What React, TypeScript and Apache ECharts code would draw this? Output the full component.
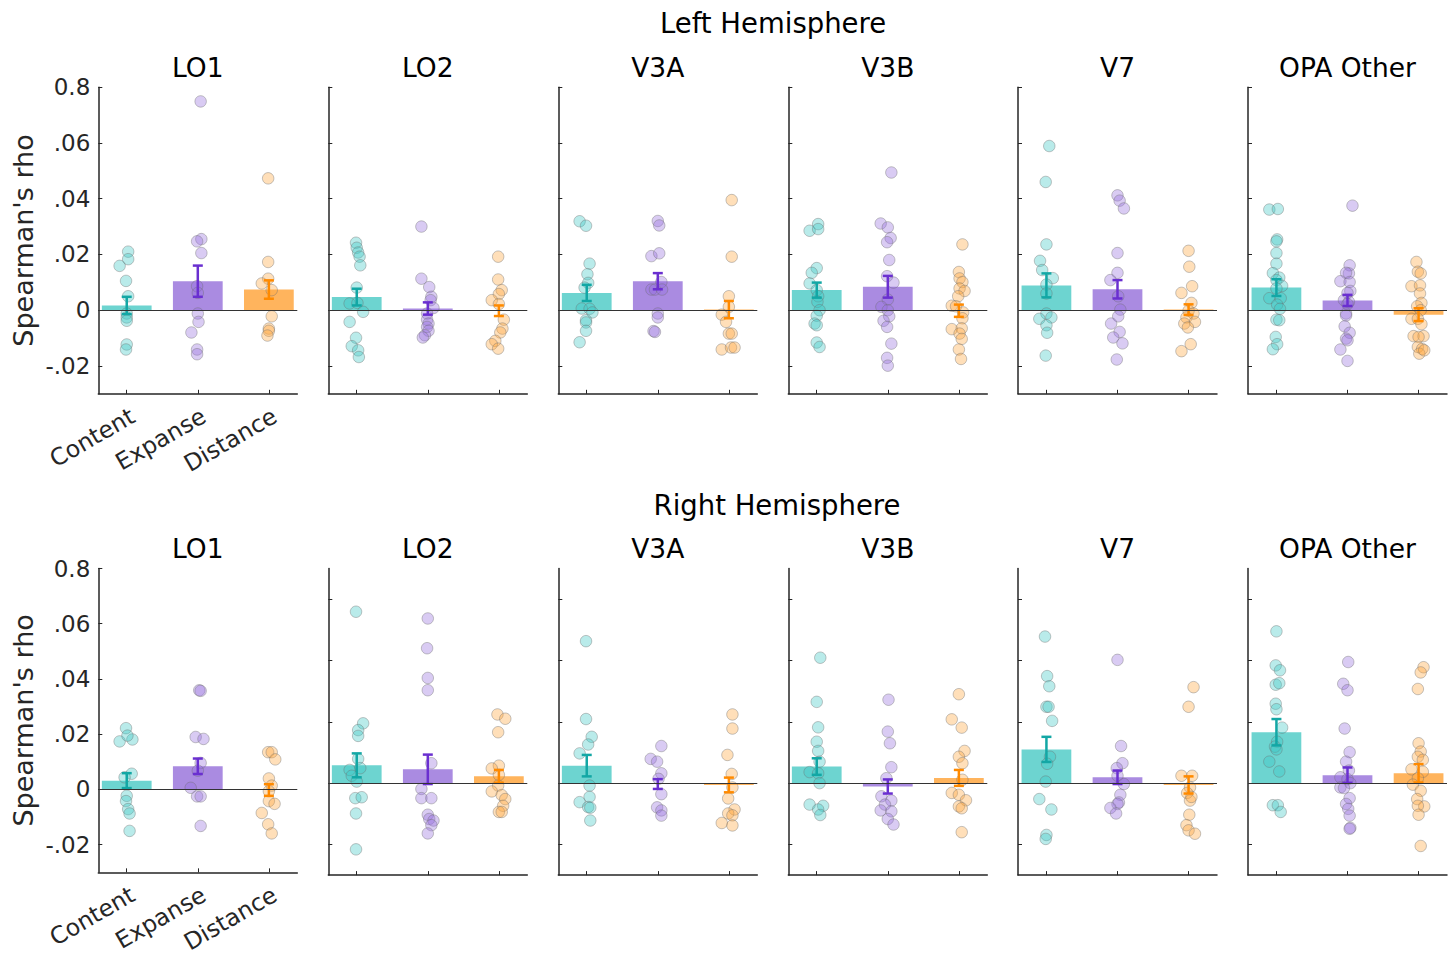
import { useEffect, useRef } from 'react';
import * as echarts from 'echarts';

// ---------------- data ----------------
const hemispheres = ['Left Hemisphere', 'Right Hemisphere'];
const regions = ['LO1', 'LO2', 'V3A', 'V3B', 'V7', 'OPA Other'];
const conditions = ['Content', 'Expanse', 'Distance'];
const yLabel = "Spearman's rho";
const yTickValues = [-0.02, 0, 0.02, 0.04, 0.06, 0.08];
const yTickLabels = ['-.02', '0', '.02', '.04', '.06', '0.8'];

// mean per region: [Content, Expanse, Distance]
const leftMeans = [
  [0.0017, 0.0104, 0.0074],
  [0.0047, 0.0006, -0.0002],
  [0.0062, 0.0104, 0.0002],
  [0.0072, 0.0084, -0.0002],
  [0.0089, 0.0075, 0.0002],
  [0.0081, 0.0035, -0.0016],
];
const leftSems = [
  [0.0031, 0.0056, 0.0033],
  [0.003, 0.0022, 0.0019],
  [0.0029, 0.0029, 0.0031],
  [0.0027, 0.0039, 0.0022],
  [0.0043, 0.0033, 0.0019],
  [0.003, 0.002, 0.0023],
];
const rightMeans = [
  [0.0032, 0.0084, -0.0002],
  [0.0058, 0.0045, 0.0022],
  [0.0057, -0.0003, -0.0006],
  [0.0054, -0.0011, 0.0017],
  [0.011, 0.0019, -0.0006],
  [0.0166, 0.0026, 0.0032],
];
const rightSems = [
  [0.0027, 0.0028, 0.0021],
  [0.0039, 0.0048, 0.0021],
  [0.0035, 0.0016, 0.0024],
  [0.0027, 0.0023, 0.0026],
  [0.0041, 0.0022, 0.0028],
  [0.0043, 0.0025, 0.003],
];

// individual subjects: [jitter, rho]
const leftPoints = [
  [ // LO1
    [[0.02, 0.021], [0.02, 0.0183], [-0.1, 0.0159], [-0.01, 0.0105], [0.02, 0.005], [0, -0.0012], [0, -0.0026], [0, -0.0038], [0, -0.0123], [-0.01, -0.0141]],
    [[0.04, 0.0749], [0.05, 0.0255], [-0.01, 0.0247], [0.05, 0.0205], [-0.01, 0.0086], [0, 0.0062], [0, -0.0012], [0.01, -0.0042], [-0.09, -0.008], [-0.01, -0.0141], [-0.01, -0.0158]],
    [[-0.01, 0.0473], [-0.01, 0.0173], [-0.01, 0.0113], [-0.1, 0.0096], [0.04, 0.0072], [0.04, -0.0022], [0, -0.0066], [0, -0.0074], [-0.02, -0.0091]],
  ],
  [ // LO2
    [[-0.01, 0.0242], [0, 0.0224], [0.02, 0.0207], [0.04, 0.0192], [0.05, 0.0161], [0, 0.0081], [-0.1, 0.0024], [0.01, 0.0026], [0.09, -0.0006], [-0.1, -0.0042], [-0.01, -0.0099], [-0.07, -0.0129], [0.02, -0.0144], [0.03, -0.0168]],
    [[-0.09, 0.03], [-0.09, 0.0113], [0.02, 0.0083], [0.05, 0.0048], [0.04, 0.0036], [0.08, 0.0008], [-0.01, -0.0012], [-0.01, -0.0034], [0.01, -0.0048], [-0.01, -0.006], [0.01, -0.0074], [-0.04, -0.009], [-0.07, -0.0098]],
    [[-0.01, 0.0192], [-0.01, 0.011], [0.04, 0.0072], [0, 0.0058], [-0.1, 0.0036], [0, 0.0022], [0.07, -0.0034], [0.05, -0.0066], [0.02, -0.008], [-0.05, -0.011], [-0.1, -0.0122], [-0.01, -0.0138]],
  ],
  [ // V3A
    [[-0.1, 0.0319], [-0.01, 0.0303], [0.04, 0.0167], [0.01, 0.0129], [0.02, 0.0098], [-0.03, 0.0081], [-0.07, 0.0006], [0.04, 0.0005], [0.08, -0.0008], [-0.01, -0.0036], [-0.01, -0.0044], [-0.01, -0.0074], [-0.1, -0.0115]],
    [[0, 0.032], [0.02, 0.0304], [-0.09, 0.0194], [0.02, 0.0204], [0.05, 0.0101], [-0.09, 0.0074], [-0.04, 0.0074], [0.06, 0.0074], [0, -0.0012], [0, -0.0026], [-0.06, -0.0075], [-0.04, -0.0078]],
    [[0.04, 0.0395], [0.04, 0.0192], [0, 0.005], [0, 0.0012], [-0.1, -0.0016], [-0.04, -0.0042], [0, -0.0084], [0.04, -0.0084], [-0.1, -0.0141], [0.03, -0.0134], [0.08, -0.0134]],
  ],
  [ // V3B
    [[0.02, 0.0309], [-0.1, 0.0285], [0.02, 0.0291], [0, 0.0151], [-0.07, 0.0134], [-0.1, 0.0096], [0, 0.0072], [0.02, 0.005], [0.01, 0.003], [0.04, 0], [0, -0.002], [-0.03, -0.0048], [0, -0.0054], [0, -0.0116], [0.04, -0.0132]],
    [[0.05, 0.0494], [-0.1, 0.0311], [0, 0.0297], [0.04, 0.0259], [-0.01, 0.0244], [0.02, 0.018], [-0.01, 0.0122], [0.08, 0.0099], [0, 0.0038], [-0.09, 0.0012], [0, 0], [0.02, -0.0022], [-0.06, -0.0038], [-0.01, -0.006], [0.05, -0.012], [-0.01, -0.0171], [0, -0.0199]],
    [[0.05, 0.0236], [0, 0.0137], [0.01, 0.0114], [0.05, 0.0101], [0.01, 0.0078], [0.08, 0.0069], [-0.01, 0.005], [-0.1, 0.0016], [-0.04, 0.0014], [0.06, -0.0008], [0.05, -0.0029], [-0.1, -0.0068], [0.04, -0.0065], [0.01, -0.0084], [0.04, -0.0103], [0, -0.0141], [0.03, -0.0175]],
  ],
  [ // V7
    [[0.04, 0.0589], [-0.01, 0.046], [0, 0.0236], [-0.09, 0.0177], [-0.06, 0.0144], [0.09, 0.0115], [0, 0.0092], [0, 0.006], [0, -0.0012], [-0.1, -0.0031], [0.07, -0.0026], [0, -0.0054], [0.01, -0.0081], [-0.01, -0.0163]],
    [[0, 0.0412], [0.03, 0.0393], [0.09, 0.0365], [0, 0.0205], [0, 0.0134], [-0.1, 0.0108], [0.01, 0.005], [0.04, 0.0002], [0.01, -0.0022], [-0.09, -0.0048], [0.03, -0.0078], [-0.06, -0.0098], [0.07, -0.0119], [-0.01, -0.0177]],
    [[0, 0.0213], [0.01, 0.0156], [0.05, 0.0086], [-0.1, 0.0062], [0.04, 0.0026], [0, -0.0002], [0.07, -0.0012], [-0.03, -0.0026], [-0.06, -0.0048], [0.09, -0.0042], [-0.01, -0.0062], [0.03, -0.0122], [-0.1, -0.0147]],
  ],
  [ // OPA Other
    [[-0.1, 0.0361], [0.02, 0.0363], [0.01, 0.0254], [0, 0.0247], [0, 0.0205], [0, 0.0167], [-0.05, 0.0133], [0.04, 0.0117], [0, 0.0108], [0.08, 0.0087], [0, 0.0078], [-0.1, 0.0043], [0.06, 0.0043], [0.01, 0.002], [0.05, 0.0005], [0, -0.0034], [0.04, -0.0036], [-0.01, -0.0096], [0.01, -0.0122], [-0.05, -0.014]],
    [[0.07, 0.0375], [0.03, 0.0161], [0.02, 0.0132], [-0.02, 0.0134], [-0.1, 0.0104], [0.03, 0.0101], [0.04, 0.0069], [0, 0.0062], [-0.05, 0.0036], [0.02, 0.003], [0, 0.0022], [-0.02, -0.0012], [-0.02, -0.0019], [-0.04, -0.0058], [0.03, -0.0081], [-0.02, -0.0102], [0, -0.0108], [-0.1, -0.0141], [0, -0.0182]],
    [[-0.03, 0.0173], [-0.01, 0.0138], [0.03, 0.0132], [-0.1, 0.0086], [0.02, 0.0089], [0.02, 0.006], [0.04, 0.0026], [-0.02, 0.0014], [0.03, 0], [-0.1, -0.0031], [-0.01, -0.0031], [0.04, -0.005], [-0.07, -0.0093], [0.07, -0.0093], [0, -0.0096], [-0.01, -0.0132], [0.05, -0.0139], [0.01, -0.0156], [0.08, -0.0144]],
  ],
];

const rightPoints = [
  [ // LO1
    [[-0.01, 0.0222], [-0.1, 0.0174], [0.08, 0.0181], [0.01, 0.0195], [0.07, 0.0057], [-0.03, 0.0044], [0, -0.0023], [-0.01, -0.0042], [0.02, -0.0071], [0.04, -0.0087], [0.04, -0.015]],
    [[0.02, 0.0359], [0.04, 0.0357], [-0.03, 0.019], [0.08, 0.0183], [0.04, 0.0096], [0, 0.0068], [-0.1, 0.0006], [-0.01, -0.0025], [0.04, -0.0025], [0.04, -0.0132]],
    [[-0.01, 0.0135], [0.04, 0.0135], [0.09, 0.0109], [0, 0.004], [0.04, 0.0014], [0, -0.0006], [0, -0.0042], [0.08, -0.0052], [-0.1, -0.0085], [-0.01, -0.0126], [0.04, -0.0159]],
  ],
  [ // LO2
    [[-0.01, 0.0559], [0.09, 0.0195], [0.02, 0.0173], [0.02, 0.0154], [0.02, 0.0079], [0.05, 0.0049], [-0.1, 0.0043], [-0.07, 0.0024], [0, 0.0005], [-0.02, -0.0049], [0.07, -0.0046], [-0.01, -0.0099], [-0.01, -0.0216]],
    [[0, 0.0537], [-0.01, 0.044], [0, 0.0343], [0, 0.0303], [0.05, 0.0065], [-0.09, -0.0019], [-0.09, -0.0049], [0.05, -0.0049], [0, -0.0103], [0.02, -0.0117], [0.08, -0.0122], [0.05, -0.0137], [0, -0.0164]],
    [[-0.02, 0.0224], [0.09, 0.021], [-0.01, 0.0166], [0, 0.0057], [-0.1, 0.0048], [0, 0.0027], [-0.01, -0.0008], [-0.1, -0.0027], [0.04, -0.0039], [0.09, -0.0052], [0.06, -0.0074], [0, -0.0094], [0.04, -0.0094]],
  ],
  [ // V3A
    [[-0.01, 0.0463], [-0.01, 0.0209], [0.07, 0.0151], [0.02, 0.0126], [-0.1, 0.0097], [0.04, -0.0008], [0.04, -0.0045], [-0.1, -0.0062], [0.02, -0.0078], [0.05, -0.008], [0.05, -0.0122]],
    [[0.05, 0.0121], [-0.1, 0.0079], [-0.01, 0.007], [0.05, 0.0032], [0.01, 0.0014], [0.05, -0.0036], [-0.01, -0.0079], [0.05, -0.0089], [0.05, -0.0106]],
    [[0.05, 0.0224], [0.05, 0.0178], [-0.02, 0.0092], [0.04, 0.003], [0.05, -0.0014], [-0.01, -0.005], [0.08, -0.0086], [-0.01, -0.0099], [0.05, -0.0105], [-0.1, -0.013], [0.05, -0.0138]],
  ],
  [ // V3B
    [[0.05, 0.0409], [0, 0.0265], [0.02, 0.0182], [0, 0.0135], [0.02, 0.0105], [0.04, 0.007], [-0.1, 0.0036], [0.02, 0.0032], [0.04, 0], [-0.1, -0.007], [0.09, -0.0074], [0.02, -0.0086], [0.05, -0.0104]],
    [[0.01, 0.0272], [0, 0.0168], [0.03, 0.013], [0.05, 0.0052], [-0.02, 0.0016], [-0.09, -0.0043], [0.05, -0.0057], [-0.04, -0.007], [-0.1, -0.0089], [0.05, -0.0092], [0, -0.0117], [0.08, -0.0135]],
    [[0, 0.029], [-0.1, 0.0208], [0.04, 0.0181], [0.08, 0.0105], [0, 0.0086], [0.05, 0.0065], [0.05, 0.0011], [-0.1, -0.0032], [0, -0.0038], [0.1, -0.0056], [0, -0.0076], [0.04, -0.0082], [0.04, -0.016]],
  ],
  [ // V7
    [[-0.02, 0.0478], [0.01, 0.0349], [0.04, 0.0316], [0, 0.0249], [0.03, 0.0249], [0.08, 0.0203], [0.05, 0.0086], [0.01, 0.0063], [-0.01, 0.0005], [-0.1, -0.0052], [0.07, -0.0086], [0, -0.0169], [-0.01, -0.0182]],
    [[0, 0.0402], [0.05, 0.0121], [0.07, 0.0065], [-0.01, 0.0049], [0, 0.0024], [0.09, -0.0003], [0.04, -0.0038], [0.02, -0.0063], [0, -0.0068], [-0.1, -0.0081], [-0.02, -0.0099]],
    [[0.07, 0.0313], [0, 0.0249], [-0.1, 0.0024], [0.05, 0.0024], [0.02, -0.0014], [-0.02, -0.0032], [0.02, -0.0057], [0.04, -0.0045], [0.01, -0.0103], [-0.03, -0.0137], [0, -0.0154], [0.09, -0.0165]],
  ],
  [ // OPA Other
    [[0, 0.0495], [-0.01, 0.0384], [0.05, 0.0368], [-0.01, 0.0321], [0.04, 0.0326], [-0.01, 0.0259], [0, 0.0241], [0.08, 0.0181], [0.01, 0.0135], [-0.02, 0.0119], [0, 0.011], [-0.1, 0.007], [0.04, 0.0038], [-0.05, -0.0072], [0.02, -0.0072], [0.06, -0.0094]],
    [[0.01, 0.0395], [-0.06, 0.0324], [0, 0.0303], [-0.04, 0.0178], [0.03, 0.0101], [-0.02, 0.007], [0.02, 0.0041], [-0.1, 0.0019], [0, 0.0013], [0.04, 0], [-0.1, -0.0014], [-0.05, -0.0016], [0.03, -0.0049], [-0.02, -0.0068], [0.01, -0.0084], [0.03, -0.0106], [0.04, -0.0146], [0.03, -0.0149]],
    [[0.07, 0.0378], [0.03, 0.0361], [-0.01, 0.0307], [0, 0.013], [0.03, 0.0103], [-0.01, 0.0086], [0.06, 0.0076], [-0.1, 0.0045], [0.06, 0.0037], [-0.01, 0.0016], [-0.08, -0.0005], [0.03, -0.0025], [-0.02, -0.0052], [0.08, -0.0076], [-0.01, -0.0074], [0, -0.0103], [0.03, -0.0205]],
  ],
];

// axis ranges
const yMin = -0.03;
const yMaxByRow = [
  [0.08, 0.08, 0.08, 0.08, 0.08, 0.08],
  [0.08, 0.07, 0.07, 0.07, 0.07, 0.07],
];
const xMin = 0.6;
const xMax = 3.4;

// ---------------- style / layout ----------------
const FONT = '"DejaVu Sans", Verdana, sans-serif';
const AXIS_COLOR = '#262626';
const barColors = ['#6dd4d0', '#aa8be1', '#ffb45d'];
const pointColors = ['rgba(60,200,196,0.45)', 'rgba(150,110,222,0.45)', 'rgba(255,165,60,0.45)'];
const errColors = ['#13a7a5', '#6a2fd0', '#ff8a00'];
const panelLefts = [98.3, 328.3, 558.3, 788.3, 1018, 1248];
const panelWidth = 199;
const rowTops = [87.2, 568.5];
const panelHeight = 306.6;
const titleCenters = [[773, 23], [777, 505]];
const BAR_W = 0.7;

function buildOption() {
  const grid: any[] = [];
  const xAxis: any[] = [];
  const yAxis: any[] = [];
  const series: any[] = [];
  const graphic: any[] = [];

  const allMeans = [leftMeans, rightMeans];
  const allSems = [leftSems, rightSems];
  const allPoints = [leftPoints, rightPoints];

  hemispheres.forEach((hemi, r) => {
    graphic.push({
      type: 'text',
      x: titleCenters[r][0],
      y: titleCenters[r][1],
      style: {
        text: hemi, fill: '#000', font: `27.5px ${FONT}`,
        textAlign: 'center', textVerticalAlign: 'middle', align: 'center', verticalAlign: 'middle',
      },
    });
    regions.forEach((reg, c) => {
      const i = r * regions.length + c;
      const top = rowTops[r];
      const yMax = yMaxByRow[r][c];
      grid.push({ left: panelLefts[c], top, width: panelWidth, height: panelHeight });
      graphic.push({
        type: 'text',
        x: panelLefts[c] + panelWidth / 2,
        y: top - 20,
        style: {
          text: reg, fill: '#000', font: `26.5px ${FONT}`,
          textAlign: 'center', textVerticalAlign: 'middle', align: 'center', verticalAlign: 'middle',
        },
      });
      const showLabels = c === 0;
      xAxis.push({
        type: 'value', gridIndex: i, min: xMin, max: xMax,
        axisLine: { show: true, onZero: false, lineStyle: { color: AXIS_COLOR, width: 1.5 } },
        axisTick: { show: true, inside: true, length: 4, customValues: [1, 2, 3], lineStyle: { color: AXIS_COLOR, width: 1 } },
        axisLabel: {
          show: showLabels, customValues: [1, 2, 3], rotate: 30, margin: 10,
          align: 'right', verticalAlign: 'top',
          formatter: (v: number) => conditions[Math.round(v) - 1] ?? '',
          fontSize: 23.5, color: AXIS_COLOR, fontFamily: FONT,
        },
        splitLine: { show: false },
      });
      const ticks = yTickValues.filter((t) => t <= yMax + 1e-9);
      yAxis.push({
        type: 'value', gridIndex: i, min: yMin, max: yMax,
        axisLine: { show: true, onZero: false, lineStyle: { color: AXIS_COLOR, width: 1.5 } },
        axisTick: { show: true, inside: true, length: 4, customValues: ticks, lineStyle: { color: AXIS_COLOR, width: 1 } },
        axisLabel: {
          show: showLabels, customValues: ticks, margin: 8,
          formatter: (v: number) => {
            const k = yTickValues.findIndex((t) => Math.abs(t - v) < 1e-9);
            return k >= 0 ? yTickLabels[k] : '';
          },
          fontSize: 23, color: AXIS_COLOR, fontFamily: FONT,
        },
        splitLine: { show: false },
        name: showLabels ? yLabel : '',
        nameLocation: 'middle', nameGap: 61,
        nameTextStyle: { fontSize: 27, color: AXIS_COLOR, fontFamily: FONT },
      });

      const means = allMeans[r][c];
      const sems = allSems[r][c];
      const pts = allPoints[r][c];

      // bars
      series.push({
        type: 'custom', xAxisIndex: i, yAxisIndex: i, z: 1, silent: true,
        data: means.map((m, k) => [k + 1, m, k]),
        encode: { x: 0, y: 1 },
        renderItem: (_p: any, api: any) => {
          const x = api.value(0);
          const k = api.value(2);
          const a = api.coord([x - BAR_W / 2, 0]);
          const b = api.coord([x + BAR_W / 2, api.value(1)]);
          return {
            type: 'rect',
            shape: { x: a[0], y: Math.min(a[1], b[1]), width: b[0] - a[0], height: Math.abs(b[1] - a[1]) },
            style: { fill: barColors[k] },
          };
        },
      });

      // subject points
      conditions.forEach((cond, k) => {
        series.push({
          type: 'scatter', name: cond, xAxisIndex: i, yAxisIndex: i, z: 2, silent: true,
          symbol: 'circle', symbolSize: 11.5,
          data: pts[k].map(([dx, v]) => [k + 1 + dx, v]),
          itemStyle: { color: pointColors[k], borderColor: 'rgba(110,110,110,0.5)', borderWidth: 1 },
        });
      });

      // error bars + zero line
      series.push({
        type: 'custom', xAxisIndex: i, yAxisIndex: i, z: 3, silent: true,
        data: means.map((m, k) => [k + 1, m, sems[k], k]),
        encode: { x: 0, y: 1 },
        renderItem: (_p: any, api: any) => {
          const x = api.value(0);
          const m = api.value(1);
          const s = api.value(2);
          const k = api.value(3);
          const t = api.coord([x, m + s]);
          const b = api.coord([x, m - s]);
          const cap = 5;
          const st = { stroke: errColors[k], lineWidth: 2.5 };
          return {
            type: 'group',
            children: [
              { type: 'line', shape: { x1: t[0], y1: t[1], x2: b[0], y2: b[1] }, style: st },
              { type: 'line', shape: { x1: t[0] - cap, y1: t[1], x2: t[0] + cap, y2: t[1] }, style: st },
              { type: 'line', shape: { x1: b[0] - cap, y1: b[1], x2: b[0] + cap, y2: b[1] }, style: st },
            ],
          };
        },
        markLine: {
          silent: true, symbol: ['none', 'none'], animation: false,
          label: { show: false },
          lineStyle: { color: '#333', width: 1, type: 'solid' },
          data: [{ yAxis: 0 }],
        },
      });
    });
  });

  return {
    animation: false,
    backgroundColor: '#ffffff',
    textStyle: { fontFamily: FONT },
    grid, xAxis, yAxis, series, graphic,
  };
}

export default function App() {
  const ref = useRef<HTMLDivElement>(null);
  useEffect(() => {
    const chart = echarts.init(ref.current!, null, { renderer: 'svg' });
    chart.setOption(buildOption() as any);
    return () => chart.dispose();
  }, []);
  return (
    <div
      ref={ref}
      style={{ position: 'absolute', left: 0, top: 0, width: 1455, height: 956, background: '#fff' }}
    />
  );
}
